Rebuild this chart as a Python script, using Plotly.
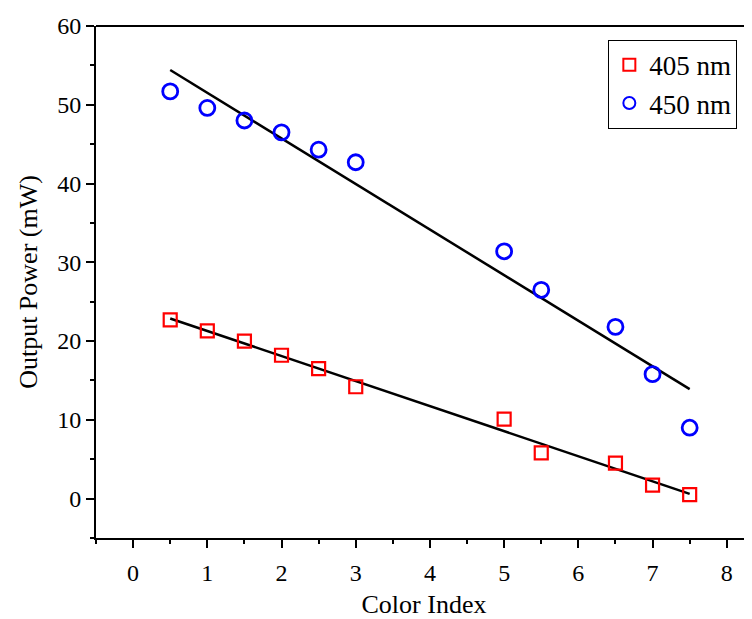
import numpy as np
import plotly.graph_objects as go

x405 = [0.5, 1, 1.5, 2, 2.5, 3, 5, 5.5, 6.5, 7, 7.5]
y405 = [22.7, 21.3, 20.0, 18.2, 16.5, 14.2, 10.1, 5.8, 4.5, 1.7, 0.5]
x450 = [0.5, 1, 1.5, 2, 2.5, 3, 5, 5.5, 6.5, 7, 7.5]
y450 = [51.7, 49.6, 48.0, 46.5, 44.3, 42.7, 31.4, 26.5, 21.8, 15.8, 9.0]

FONT = "Liberation Serif"

fig = go.Figure()

def fit_line(xs, ys):
    k, b = np.polyfit(xs, ys, 1)
    xf = [min(xs), max(xs)]
    return xf, [k * v + b for v in xf]

for xs, ys in ((x405, y405), (x450, y450)):
    xf, yf = fit_line(xs, ys)
    fig.add_trace(go.Scatter(x=xf, y=yf, mode="lines", line=dict(color="black", width=2.5),
                             showlegend=False, hoverinfo="skip"))

fig.add_trace(go.Scatter(x=x405, y=y405, mode="markers", name="405 nm",
                         marker=dict(symbol="square-open", size=13, color="red",
                                     line=dict(width=2.2, color="red"))))
fig.add_trace(go.Scatter(x=x450, y=y450, mode="markers", name="450 nm",
                         marker=dict(symbol="circle-open", size=15, color="blue",
                                     line=dict(width=2.8, color="blue"))))

axis_common = dict(showgrid=False, zeroline=False, showline=True, linecolor="black", linewidth=2,
                   ticks="outside", ticklen=8, tickwidth=2, tickcolor="black",
                   tickfont=dict(family=FONT, size=24, color="black"))

fig.update_xaxes(range=[-0.5, 8.34], tickvals=[0, 1, 2, 3, 4, 5, 6, 7, 8],
                 ticklabelstandoff=4,
                 minor=dict(tickvals=[-0.5, 0.5, 1.5, 2.5, 3.5, 4.5, 5.5, 6.5, 7.5],
                            ticks="outside", ticklen=4, tickwidth=2, tickcolor="black"),
                 title=dict(text="Color Index", font=dict(family=FONT, size=26, color="black"), standoff=14),
                 **axis_common)
fig.update_yaxes(range=[-5, 60], tickvals=[0, 10, 20, 30, 40, 50, 60],
                 minor=dict(tickvals=[-5, 5, 15, 25, 35, 45, 55],
                            ticks="outside", ticklen=4, tickwidth=2, tickcolor="black"),
                 title=dict(text="Output Power (mW)", font=dict(family=FONT, size=26, color="black"), standoff=12),
                 **axis_common)

# top border line
fig.add_shape(type="line", xref="paper", yref="paper", x0=0, x1=1, y0=1, y1=1,
              line=dict(color="black", width=2))

fig.update_layout(
    width=744, height=611,
    margin=dict(l=88, r=0, t=18, b=81),
    plot_bgcolor="white", paper_bgcolor="white",
    font=dict(family=FONT, size=24, color="black"),
    legend=dict(x=0.781, y=0.973, xanchor="left", yanchor="top",
                bordercolor="black", borderwidth=1, bgcolor="white",
                font=dict(family=FONT, size=27, color="black"),
                tracegroupgap=0, itemsizing="constant"),
)

fig.write_html("out.html")
